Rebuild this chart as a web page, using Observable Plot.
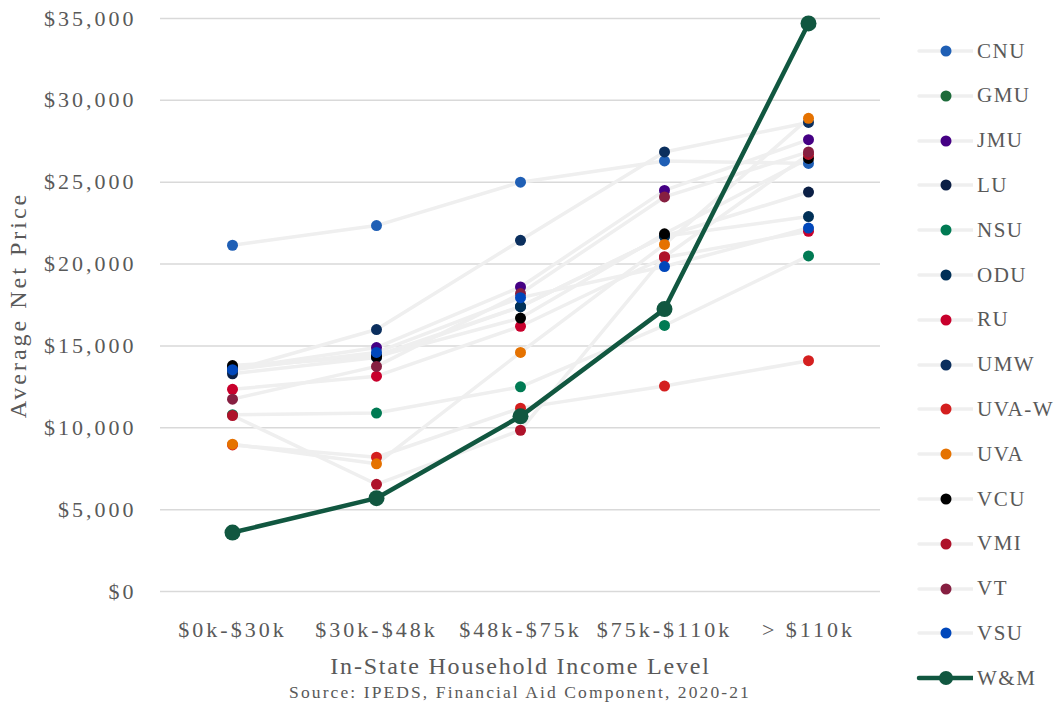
<!DOCTYPE html>
<html><head><meta charset="utf-8">
<script src="https://cdn.jsdelivr.net/npm/d3@7"></script>
<script src="https://cdn.jsdelivr.net/npm/@observablehq/plot@0.6"></script>
<style>
body{margin:0;background:#fff;font-family:"Liberation Serif","Times New Roman",serif;}
#wrap{position:relative;width:1057px;height:708px;overflow:hidden;}
#chart svg{display:block;}
#caption{position:absolute;left:0;top:682px;width:1040px;text-align:center;font-size:17.5px;letter-spacing:2.1px;color:#595959;line-height:20px;}
.leg{position:absolute;left:915px;height:24px;display:flex;align-items:center;color:#595959;font-size:21px;letter-spacing:1.5px;}
.leg svg{display:block;margin-right:4px;}
</style>
</head><body>
<div id="wrap"><div id="chart"></div><div id="legend"></div><div id="caption">Source: IPEDS, Financial Aid Component, 2020-21</div></div>
<script>
const categories = ["$0k-$30k", "$30k-$48k", "$48k-$75k", "$75k-$110k", "> $110k"];
const schools = ["CNU","GMU","JMU","LU","NSU","ODU","RU","UMW","UVA-W","UVA","VCU","VMI","VT","VSU","W&M"];
const colors = ["#1f5fb5","#1d6b3a","#450084","#0b1f45","#007a53","#003057","#c8002c","#0b2f5e","#d41f1f","#e57200","#000000","#ae122a","#861f41","#0047bb","#115740"];
const cnu  = [21150, 22350, 25000, 26300, 26150];
const gmu  = [null, null, null, null, null];
const jmu  = [13600, 14900, 18600, 24500, 27600];
const lu   = [13300, 14300, 17400, 21700, 24400];
const nsu  = [10800, 10900, 12500, 16250, 20500];
const odu  = [13700, 14400, 17400, 21700, 22900];
const ru   = [12350, 13150, 16200, 20400, 22000];
const umw  = [13500, 16000, 21450, 26850, 28650];
const uvaw = [8950, 8200, 11200, 12550, 14100];
const uva  = [9000, 7800, 14600, 21200, 28900];
const vcu  = [13800, 14350, 16700, 21850, 26450];
const vmi  = [10750, 6550, 9850, 20450, 26700];
const vt   = [11750, 13750, 18200, 24100, 26850];
const vsu  = [13550, 14600, 17950, 19850, 22200];
const wm   = [3600, 5700, 10700, 17250, 34700];
const yTicks = [0, 5000, 10000, 15000, 20000, 25000, 30000, 35000];

const series = [cnu,gmu,jmu,lu,nsu,odu,ru,umw,uvaw,uva,vcu,vmi,vt,vsu,wm];
const rows = series.flatMap((vals, i) => vals.map((v, j) => ({school: schools[i], color: colors[i], cat: categories[j], value: v})))
  .filter(d => d.value != null);
const others = rows.filter(d => d.school !== "W&M");
const wmRows = rows.filter(d => d.school === "W&M");
const fmt = d => "$" + d3.format(",")(d);

const chart = Plot.plot({
  width: 900, height: 682,
  marginLeft: 160, marginRight: 20, marginTop: 18, marginBottom: 91,
  style: {fontFamily: "'Liberation Serif','Times New Roman',serif", color: "#595959", background: "#fff"},
  x: {type: "point", domain: categories, padding: 0.5},
  y: {domain: [0, 35000]},
  marks: [
    Plot.gridY(yTicks, {stroke: "#d9d9d9", strokeOpacity: 1, strokeWidth: 1.5}),
    Plot.axisY(yTicks, {tickSize: 0, tickPadding: 24, tickFormat: fmt, fontSize: 22, fill: "#595959", label: null}),
    Plot.axisX({tickSize: 0, tickPadding: 30, fontSize: 22, fill: "#595959", label: null}),
    Plot.line(others, {x: "cat", y: "value", z: "school", stroke: "#efefef", strokeWidth: 3.5}),
    Plot.dot(others, {x: "cat", y: "value", fill: "color", r: 5.5}),
    Plot.line(wmRows, {x: "cat", y: "value", stroke: "#115740", strokeWidth: 4.5}),
    Plot.dot(wmRows, {x: "cat", y: "value", fill: "#115740", r: 8}),
    Plot.text(["In-State Household Income Level"], {frameAnchor: "bottom", dy: 82, fontSize: 24, fill: "#595959"}),
    Plot.text(["Average Net Price"], {frameAnchor: "left", textAnchor: "middle", rotate: -90, dx: -142, fontSize: 24, fill: "#595959"})
  ]
});
document.getElementById("chart").appendChild(chart);
d3.select(chart).selectAll('g[aria-label="y-axis tick label"] text, g[aria-label="x-axis tick label"] text').style("letter-spacing", "3px");
d3.select(chart).selectAll('g[aria-label="text"] text').style("letter-spacing", d => d === undefined ? "1.8px" : "1.8px");
d3.select(chart).selectAll('g[aria-label="text"] text').filter(function() { return this.textContent === "Average Net Price"; }).style("letter-spacing", "3px");

const legend = document.getElementById("legend");
schools.forEach((s, i) => {
  const div = document.createElement("div");
  div.className = "leg";
  div.style.top = (51 + i * 44.8 - 12) + "px";
  const isWM = s === "W&M";
  div.innerHTML = `<svg width="58" height="24"><line x1="4" x2="58" y1="12" y2="12" stroke="${isWM ? colors[i] : "#efefef"}" stroke-width="${isWM ? 4.5 : 3.5}" stroke-linecap="round"/><circle cx="31" cy="12" r="${isWM ? 7 : 5.5}" fill="${colors[i]}"/></svg><span>${s}</span>`;
  legend.appendChild(div);
});
</script>
</body></html>
